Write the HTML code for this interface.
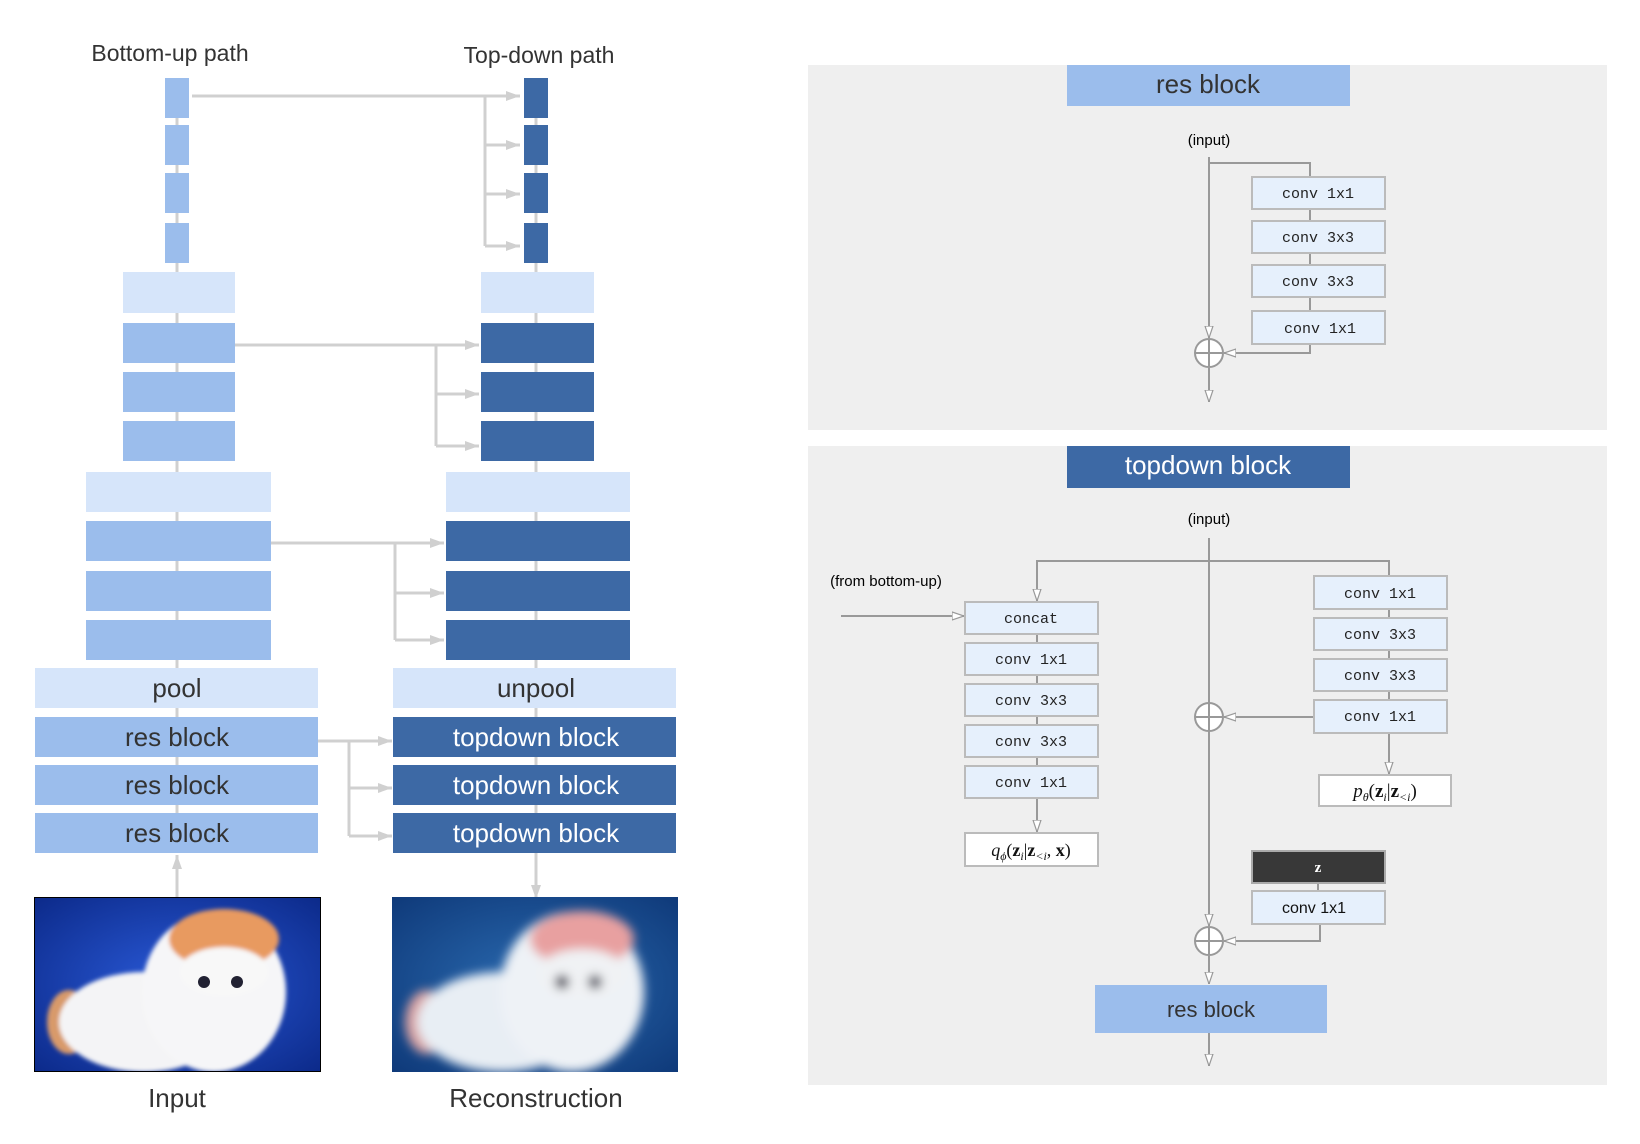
<!DOCTYPE html>
<html><head><meta charset="utf-8"><style>
html,body{margin:0;padding:0;background:#fff;}
svg{display:block;}
.t{font-family:"Liberation Sans",Arial,sans-serif;}
.m{font-family:"Liberation Mono",monospace;font-size:15px;fill:#222;}
</style></head><body>
<svg width="1640" height="1144" viewBox="0 0 1640 1144" xmlns="http://www.w3.org/2000/svg">
<defs>
<marker id="la" viewBox="0 0 14 12" refX="14" refY="6" markerWidth="14" markerHeight="12" orient="auto" markerUnits="userSpaceOnUse"><path d="M0,1 L14,6 L0,11 z" fill="#d0d0d0"/></marker>
<marker id="ga" viewBox="0 0 12 10" refX="12" refY="5" markerWidth="12" markerHeight="10" orient="auto" markerUnits="userSpaceOnUse"><path d="M0,1 L12,5 L0,9 z" fill="#fff" stroke="#999" stroke-width="1.2"/></marker>
<filter id="bl"><feGaussianBlur stdDeviation="5"/></filter>
<filter id="bl2"><feGaussianBlur stdDeviation="2"/></filter>
<radialGradient id="bg1" cx="0.5" cy="0.5" r="0.7"><stop offset="0" stop-color="#2a5ad8"/><stop offset="1" stop-color="#0c2a8a"/></radialGradient>
<radialGradient id="bg2" cx="0.5" cy="0.5" r="0.7"><stop offset="0" stop-color="#2a6ab0"/><stop offset="1" stop-color="#0f3a7a"/></radialGradient>
</defs>

<text class="t" x="170" y="61" font-size="23" fill="#333" text-anchor="middle">Bottom-up path</text>
<text class="t" x="539" y="63" font-size="23" fill="#333" text-anchor="middle">Top-down path</text>

<line x1="177" y1="78" x2="177" y2="853" stroke="#d0d0d0" stroke-width="3"/>
<line x1="536" y1="78" x2="536" y2="853" stroke="#d0d0d0" stroke-width="3"/>

<g stroke="#d0d0d0" stroke-width="3" fill="none">
<line x1="192" y1="96" x2="520" y2="96" marker-end="url(#la)"/>
<polyline points="485,96 485,246"/>
<line x1="485" y1="145" x2="520" y2="145" marker-end="url(#la)"/>
<line x1="485" y1="194" x2="520" y2="194" marker-end="url(#la)"/>
<line x1="485" y1="246" x2="520" y2="246" marker-end="url(#la)"/>
<line x1="235" y1="345" x2="479" y2="345" marker-end="url(#la)"/>
<polyline points="436,345 436,446"/>
<line x1="436" y1="394" x2="479" y2="394" marker-end="url(#la)"/>
<line x1="436" y1="446" x2="479" y2="446" marker-end="url(#la)"/>
<line x1="271" y1="543" x2="444" y2="543" marker-end="url(#la)"/>
<polyline points="395,543 395,640"/>
<line x1="395" y1="593" x2="444" y2="593" marker-end="url(#la)"/>
<line x1="395" y1="640" x2="444" y2="640" marker-end="url(#la)"/>
<line x1="318" y1="741" x2="392" y2="741" marker-end="url(#la)"/>
<polyline points="349,741 349,836"/>
<line x1="349" y1="788" x2="392" y2="788" marker-end="url(#la)"/>
<line x1="349" y1="836" x2="392" y2="836" marker-end="url(#la)"/>
<line x1="177" y1="898" x2="177" y2="855" marker-end="url(#la)"/>
<line x1="536" y1="853" x2="536" y2="899" marker-end="url(#la)"/>
</g>

<g fill="#9bbdec">
<rect x="165" y="78" width="24" height="40"/><rect x="165" y="125" width="24" height="40"/>
<rect x="165" y="173" width="24" height="40"/><rect x="165" y="223" width="24" height="40"/>
<rect x="123" y="272" width="112" height="41" fill="#d6e5fa"/>
<rect x="123" y="323" width="112" height="40"/><rect x="123" y="372" width="112" height="40"/><rect x="123" y="421" width="112" height="40"/>
<rect x="86" y="472" width="185" height="40" fill="#d6e5fa"/>
<rect x="86" y="521" width="185" height="40"/><rect x="86" y="571" width="185" height="40"/><rect x="86" y="620" width="185" height="40"/>
<rect x="35" y="668" width="283" height="40" fill="#d6e5fa"/>
<rect x="35" y="717" width="283" height="40"/><rect x="35" y="765" width="283" height="40"/><rect x="35" y="813" width="283" height="40"/>
</g>
<g class="t" font-size="26" fill="#333" text-anchor="middle">
<text x="177" y="697">pool</text><text x="177" y="746">res block</text><text x="177" y="794">res block</text><text x="177" y="842">res block</text>
</g>

<g fill="#3d69a5">
<rect x="524" y="78" width="24" height="40"/><rect x="524" y="125" width="24" height="40"/>
<rect x="524" y="173" width="24" height="40"/><rect x="524" y="223" width="24" height="40"/>
<rect x="481" y="272" width="113" height="41" fill="#d6e5fa"/>
<rect x="481" y="323" width="113" height="40"/><rect x="481" y="372" width="113" height="40"/><rect x="481" y="421" width="113" height="40"/>
<rect x="446" y="472" width="184" height="40" fill="#d6e5fa"/>
<rect x="446" y="521" width="184" height="40"/><rect x="446" y="571" width="184" height="40"/><rect x="446" y="620" width="184" height="40"/>
<rect x="393" y="668" width="283" height="40" fill="#d6e5fa"/>
<rect x="393" y="717" width="283" height="40"/><rect x="393" y="765" width="283" height="40"/><rect x="393" y="813" width="283" height="40"/>
</g>
<g class="t" font-size="26" text-anchor="middle">
<text x="536" y="697" fill="#333">unpool</text>
<text x="536" y="746" fill="#fff">topdown block</text><text x="536" y="794" fill="#fff">topdown block</text><text x="536" y="842" fill="#fff">topdown block</text>
</g>

<svg x="34" y="897" width="287" height="175" viewBox="0 0 287 175">
<rect width="287" height="175" fill="url(#bg1)"/>
<g filter="url(#bl2)">
<ellipse cx="35" cy="125" rx="22" ry="32" fill="#d89a6a"/>
<ellipse cx="110" cy="125" rx="85" ry="50" fill="#f4f4f6"/>
<ellipse cx="180" cy="95" rx="72" ry="80" fill="#f6f6f8"/>
<ellipse cx="190" cy="42" rx="55" ry="30" fill="#e89a60"/>
<ellipse cx="190" cy="75" rx="45" ry="25" fill="#f8f8f8"/>
</g>
<circle cx="170" cy="85" r="6" fill="#223"/><circle cx="203" cy="85" r="6" fill="#223"/>
<rect x="0" y="0" width="287" height="175" fill="none" stroke="#000" stroke-width="2"/>
</svg>

<svg x="392" y="897" width="286" height="175" viewBox="0 0 286 175">
<rect width="286" height="175" fill="url(#bg2)"/>
<g filter="url(#bl)">
<ellipse cx="35" cy="125" rx="22" ry="32" fill="#d8a0a0"/>
<ellipse cx="110" cy="125" rx="85" ry="50" fill="#e8eef4"/>
<ellipse cx="180" cy="95" rx="72" ry="80" fill="#eef2f6"/>
<ellipse cx="190" cy="42" rx="52" ry="28" fill="#e8a0a0"/>
<ellipse cx="190" cy="77" rx="45" ry="25" fill="#f0f2f4"/>
<circle cx="170" cy="85" r="7" fill="#334"/><circle cx="203" cy="85" r="7" fill="#445"/>
</g>
</svg>

<text class="t" x="177" y="1107" font-size="26" fill="#333" text-anchor="middle">Input</text>
<text class="t" x="536" y="1107" font-size="26" fill="#333" text-anchor="middle">Reconstruction</text>

<rect x="808" y="65" width="799" height="365" fill="#efefef"/>
<rect x="1067" y="65" width="283" height="41" fill="#9bbdec"/>
<text class="t" x="1208" y="93" font-size="26" fill="#333" text-anchor="middle">res block</text>
<text class="t" x="1209" y="145" font-size="15" fill="#000" text-anchor="middle">(input)</text>
<g stroke="#999" stroke-width="2" fill="none">
<line x1="1209" y1="157" x2="1209" y2="338" marker-end="url(#ga)"/>
<polyline points="1209,163 1310,163 1310,311"/>
<polyline points="1310,344 1310,353 1224,353" marker-end="url(#ga)"/>
<line x1="1209" y1="368" x2="1209" y2="402" marker-end="url(#ga)"/>
<circle cx="1209" cy="353" r="14" fill="#fff"/>
<line x1="1195" y1="353" x2="1223" y2="353"/><line x1="1209" y1="339" x2="1209" y2="367"/>
</g>
<g fill="#e6f0fc" stroke="#bbb" stroke-width="2">
<rect x="1252" y="177" width="133" height="32"/><rect x="1252" y="221" width="133" height="32"/>
<rect x="1252" y="265" width="133" height="32"/><rect x="1252" y="311" width="133" height="33"/>
</g>
<g class="m" text-anchor="middle">
<text x="1318" y="198">conv 1x1</text><text x="1318" y="242">conv 3x3</text>
<text x="1318" y="286">conv 3x3</text><text x="1320" y="333">conv 1x1</text>
</g>

<rect x="808" y="446" width="799" height="639" fill="#efefef"/>
<rect x="1067" y="446" width="283" height="42" fill="#3d69a5"/>
<text class="t" x="1208" y="474" font-size="26" fill="#fff" text-anchor="middle">topdown block</text>
<text class="t" x="1209" y="524" font-size="15" fill="#000" text-anchor="middle">(input)</text>
<text class="t" x="886" y="586" font-size="15" fill="#000" text-anchor="middle">(from bottom-up)</text>
<g stroke="#999" stroke-width="2" fill="none">
<line x1="1209" y1="538" x2="1209" y2="926" marker-end="url(#ga)"/>
<polyline points="1037,600 1037,561 1389,561 1389,576"/>
<line x1="1037" y1="575" x2="1037" y2="601" marker-end="url(#ga)"/>
<line x1="841" y1="616" x2="964" y2="616" marker-end="url(#ga)"/>
<line x1="1037" y1="634" x2="1037" y2="766"/>
<line x1="1037" y1="798" x2="1037" y2="832" marker-end="url(#ga)"/>
<line x1="1389" y1="609" x2="1389" y2="700"/>
<line x1="1314" y1="717" x2="1224" y2="717" marker-end="url(#ga)"/>
<line x1="1389" y1="733" x2="1389" y2="774" marker-end="url(#ga)"/>
<line x1="1318" y1="883" x2="1318" y2="891"/>
<polyline points="1320,924 1320,941 1224,941" marker-end="url(#ga)"/>
<line x1="1209" y1="956" x2="1209" y2="984" marker-end="url(#ga)"/>
<line x1="1209" y1="1033" x2="1209" y2="1066" marker-end="url(#ga)"/>
<circle cx="1209" cy="717" r="14" fill="#fff"/>
<line x1="1195" y1="717" x2="1223" y2="717"/><line x1="1209" y1="703" x2="1209" y2="731"/>
<circle cx="1209" cy="941" r="14" fill="#fff"/>
<line x1="1195" y1="941" x2="1223" y2="941"/><line x1="1209" y1="927" x2="1209" y2="955"/>
</g>
<g fill="#e6f0fc" stroke="#bbb" stroke-width="2">
<rect x="965" y="602" width="133" height="32"/><rect x="965" y="643" width="133" height="32"/>
<rect x="965" y="684" width="133" height="32"/><rect x="965" y="725" width="133" height="32"/>
<rect x="965" y="766" width="133" height="32"/>
<rect x="965" y="833" width="133" height="33" fill="#fff"/>
<rect x="1314" y="576" width="133" height="33"/><rect x="1314" y="618" width="133" height="32"/>
<rect x="1314" y="659" width="133" height="32"/><rect x="1314" y="700" width="133" height="33"/>
<rect x="1319" y="775" width="132" height="31" fill="#fff"/>
<rect x="1252" y="851" width="133" height="32" fill="#383838" stroke="#aaa"/>
<rect x="1252" y="891" width="133" height="33"/>
</g>
<rect x="1095" y="985" width="232" height="48" fill="#9bbdec"/>
<g class="m" text-anchor="middle">
<text x="1031" y="623">concat</text><text x="1031" y="664">conv 1x1</text>
<text x="1031" y="705">conv 3x3</text><text x="1031" y="746">conv 3x3</text>
<text x="1031" y="787">conv 1x1</text>
<text x="1380" y="598">conv 1x1</text><text x="1380" y="639">conv 3x3</text>
<text x="1380" y="680">conv 3x3</text><text x="1380" y="721">conv 1x1</text>
</g>
<text x="1031" y="856" font-family="Liberation Serif,serif" font-size="18" fill="#111" text-anchor="middle"><tspan font-style="italic">q</tspan><tspan font-size="12" font-style="italic" dy="4">ϕ</tspan><tspan dy="-4">(</tspan><tspan font-weight="bold">z</tspan><tspan font-size="12" font-style="italic" dy="4">i</tspan><tspan dy="-4">|</tspan><tspan font-weight="bold">z</tspan><tspan font-size="12" font-style="italic" dy="4">&lt;i</tspan><tspan dy="-4">, </tspan><tspan font-weight="bold">x</tspan>)</text>
<text x="1385" y="797" font-family="Liberation Serif,serif" font-size="19" fill="#111" text-anchor="middle"><tspan font-style="italic">p</tspan><tspan font-size="12" font-style="italic" dy="4">θ</tspan><tspan dy="-4">(</tspan><tspan font-weight="bold">z</tspan><tspan font-size="12" font-style="italic" dy="4">i</tspan><tspan dy="-4">|</tspan><tspan font-weight="bold">z</tspan><tspan font-size="12" font-style="italic" dy="4">&lt;i</tspan><tspan dy="-4">)</tspan></text>
<text x="1318" y="872" font-family="Liberation Serif,serif" font-size="15" font-weight="bold" fill="#fff" text-anchor="middle">z</text>
<text class="t" x="1314" y="913" font-size="16" fill="#111" text-anchor="middle">conv 1x1</text>
<text class="t" x="1211" y="1017" font-size="22" fill="#333" text-anchor="middle">res block</text>
</svg>
</body></html>
